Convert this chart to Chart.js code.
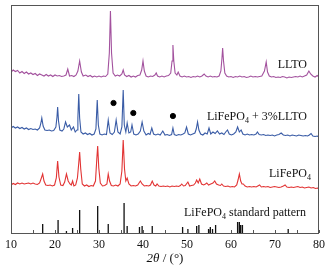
<!DOCTYPE html>
<html>
<head>
<meta charset="utf-8">
<script src="https://cdn.jsdelivr.net/npm/chart.js@4"></script>
<style>
  html, body { margin: 0; padding: 0; background: #fff; }
  #wrap { width: 334px; height: 268px; }
</style>
</head>
<body>
<div id="wrap"><canvas id="xrd"></canvas></div>
<script>
// 2θ (deg), intensity (arbitrary, offset per pattern)
const lltoPattern = [
  [10,161],[10.5,163],[11,161.5],[11.5,162.5],[12,160],[12.5,161.5],[13,159.5],[13.5,161],[14,159],[14.5,160],
  [15,158.5],[15.5,159.5],[16,157.5],[16.5,159],[17,158],[17.5,157],[18,158.5],[18.5,157],[19,158],[19.5,156.5],
  [20,158],[20.5,157],[21,157.5],[21.5,156.5],[22,157],[22.5,158],[22.9,164],[23.3,157],[23.8,157.5],[24.3,156.5],
  [24.8,158],[25.2,162],[25.6,172],[26,161],[26.4,157],[27,158],[27.5,156.5],[28,157.5],[28.5,156],[29,157],
  [29.5,156],[30,157],[30.5,156],[31,157],[31.5,156.5],[32,159],[32.35,180],[32.6,222],[32.85,180],[33.2,160],
  [33.7,157],[34.2,158],[34.7,157],[35.2,159],[35.5,163],[35.8,158],[36.3,156.5],[36.8,157.5],[37.3,156],[37.8,157],
  [38.3,156],[38.8,157.5],[39.3,158],[39.7,163],[40,172],[40.3,162],[40.7,157],[41.2,156],[41.7,157],[42.2,156.5],
  [42.7,158],[43,160],[43.3,157],[43.8,156],[44.3,157],[44.8,156],[45.3,157],[45.8,157.5],[46.3,160],[46.6,172],
  [46.8,188],[47,172],[47.3,160],[47.7,158],[48,161],[48.4,157],[48.9,156],[49.4,157],[49.9,156],[50.4,156.5],
  [50.9,155.5],[51.4,156.5],[51.9,156],[52.4,157],[52.9,156],[53.4,157],[53.9,159],[54.3,157],[54.8,156],[55.3,157],
  [55.8,156],[56.3,156.5],[56.8,156],[57.3,157],[57.7,162],[57.95,175],[58.1,185],[58.3,172],[58.6,160],[59,157],
  [59.5,156],[60,156.5],[60.5,155.5],[61,156.5],[61.5,156],[62,157],[62.5,156],[63,156.5],[63.5,155.5],[64,156],
  [64.5,157],[65,156],[65.5,156.5],[66,156],[66.5,156.5],[67,157],[67.6,162],[68,171],[68.3,161],[68.7,157],
  [69.2,156],[69.7,156.5],[70.2,155.5],[70.7,156],[71.2,155.5],[71.7,156.5],[72.2,156],[72.7,155],[73.2,156],[73.7,155.5],
  [74.2,156],[74.7,156.5],[75.2,156],[75.7,157],[76.2,156],[76.7,157],[77.2,158],[77.7,162],[78.1,159],[78.6,157],
  [79.1,156],[79.6,157.5],[80,156]
];

const compositePattern = [
  [10,105],[10.5,106.5],[11,105],[11.5,106],[12,104.5],[12.5,105.5],[13,104],[13.5,105],[14,103.5],[14.5,104.5],
  [15,103.5],[15.5,104],[16,103],[16.5,105],[16.8,110],[17,115],[17.3,107],[17.7,103],[18.2,102.5],[18.7,103],
  [19.2,102],[19.7,102.5],[20.2,106],[20.45,116],[20.6,126],[20.8,112],[21.1,103],[21.6,102],[22,104],[22.4,111],
  [22.8,106],[23.3,108],[23.7,103],[24.2,106],[24.6,101],[25,103],[25.2,115],[25.4,139],[25.6,115],[25.9,101],
  [26.4,99],[26.9,100],[27.4,98.5],[27.9,99.5],[28.4,98],[28.9,99],[29.3,104],[29.6,133],[29.85,108],[30.2,99],
  [30.7,98],[31.2,99],[31.7,98.5],[32.1,113],[32.5,100],[33,98.5],[33.5,101],[33.9,113],[34.3,101],[34.8,99],
  [35.2,106],[35.5,143],[35.75,108],[36.1,101],[36.4,110],[36.8,100],[37.2,101],[37.5,108],[37.9,99],[38.4,98],
  [38.9,99],[39.4,102],[39.8,111],[40.2,102],[40.7,98],[41.2,99.5],[41.6,98.5],[42,105],[42.4,99],[42.9,98],
  [43.4,99],[43.9,98],[44.5,102],[45,98],[45.5,98.5],[46,97.5],[46.5,98.5],[46.8,105],[47.1,98.5],[47.6,97.5],
  [48.1,98.5],[48.6,98],[49.1,99],[49.5,100],[49.9,106],[50.3,99],[50.8,98],[51.3,99],[51.8,100],[52.1,104],
  [52.4,111],[52.7,103],[53.1,99],[53.6,98],[54.1,100],[54.6,99],[55,105],[55.4,99],[55.9,101],[56.4,99.5],
  [56.9,102],[57.4,99],[57.9,100],[58.4,98.5],[58.8,101],[59.2,103],[59.6,99],[60.1,98],[60.6,99],[61.1,101],
  [61.5,106],[61.9,101],[62.3,103],[62.7,99],[63.2,98],[63.7,99],[64.2,98],[64.7,98.5],[65.2,98],[65.7,99],
  [66,101],[66.4,98.5],[66.9,98],[67.4,98.5],[67.9,97.5],[68.4,98],[68.9,97.5],[69.4,98],[69.9,97],[70.4,98],
  [70.9,98.5],[71.4,100],[71.9,98],[72.4,97.5],[72.9,98],[73.4,97],[73.9,98],[74.4,97.5],[74.9,97],[75.4,98],
  [75.9,97.5],[76.4,97],[76.9,97.5],[77.4,97],[77.8,98],[78.2,99.5],[78.6,97],[79.1,96.5],[79.6,97],[80,96]
];

const lfpPattern = [
  [10,48],[10.5,49.5],[11,48.5],[11.5,50],[12,49],[12.5,50],[13,49],[13.5,49.5],[14,50],[14.5,49],
  [15,50],[15.5,49],[16,48.5],[16.5,50],[16.9,55],[17.2,59],[17.5,52],[17.9,48],[18.4,47.5],[18.9,48],
  [19.4,47],[19.9,48],[20.3,55],[20.6,72],[20.9,56],[21.3,48],[21.8,47.5],[22.2,51],[22.6,59],[23,52],
  [23.4,49],[23.7,48],[24,52],[24.3,47],[24.7,48],[25.1,55],[25.4,70],[25.6,81],[25.85,64],[26.2,49],
  [26.7,47],[27.2,48],[27.7,46.5],[28.2,47.5],[28.7,47],[29.2,52],[29.5,74],[29.7,87],[29.95,65],[30.3,50],
  [30.8,47],[31.3,47.5],[31.8,49],[32.1,59],[32.4,52],[32.8,47.5],[33.3,47],[33.8,48],[34.3,47],[34.8,49],
  [35.2,62],[35.5,93],[35.8,64],[36.1,52],[36.4,55],[36.8,49],[37.3,47],[37.8,47.5],[38.3,47],[38.8,48],
  [39.1,50],[39.4,52],[39.8,49],[40.3,47],[40.8,47.5],[41.3,47],[41.7,48],[42.1,52],[42.5,48],[42.9,47],
  [43.2,49],[43.6,47],[44.1,46.5],[44.6,47],[45.1,46.5],[45.6,47],[46.1,46],[46.6,47],[47.1,46.5],[47.6,47],
  [48.1,46.5],[48.5,47.5],[48.8,49],[49.2,47],[49.6,47.5],[50.2,51],[50.6,47],[51,47.5],[51.5,48],[51.9,50],
  [52.2,53],[52.55,50],[52.9,54],[53.3,49],[53.8,48],[54.2,49],[54.5,50],[54.9,48],[55.4,49],[55.9,50],
  [56.3,52],[56.7,49],[57.2,48],[57.6,47.5],[57.9,49],[58.3,47],[58.8,46.5],[59.3,47],[59.8,46],[60.3,46.5],
  [60.8,46],[61.3,48],[61.6,53],[61.9,59],[62.2,52],[62.5,49],[62.8,49],[63.2,47],[63.7,46],[64.2,46.5],
  [64.7,46],[65.2,46.5],[65.7,46],[66.1,47],[66.5,48],[66.9,46],[67.4,46.5],[67.9,46],[68.4,46.5],[68.9,45.5],
  [69.4,46],[69.9,46.5],[70.4,46],[70.9,45.5],[71.4,46],[71.9,47],[72.3,48],[72.7,46],[73.2,45.5],[73.7,46],
  [74.2,45.5],[74.7,46],[75.2,46.5],[75.7,45.5],[76.2,46],[76.7,45],[77.2,45.5],[77.7,46],[78.2,45],[78.7,45.5],
  [79.2,44.5],[79.7,45],[80,44]
];

// reference lines of the LiFePO4 standard pattern
const stickPositions = [17.2, 20.7, 22.6, 24.0, 25.6, 29.7, 32.1, 35.7, 36.4, 39.2, 39.8, 42.1,
  49.0, 50.2, 52.2, 52.7, 54.9, 55.3, 55.8, 56.5, 61.5, 61.9, 62.2, 62.6, 73.0];
const stickHeights = [9, 13, 2, 5, 23, 27, 9, 30, 7, 6, 7, 7,
  6, 4, 7, 8, 4, 6, 4, 8, 11, 11, 8, 8, 4];

// LLTO reflections marked with dots in the composite pattern
const dotPositions = [33.3, 37.8, 46.8];
const dotHeights = [130, 120, 117];

const xTicks = [10, 20, 30, 40, 50, 60, 70, 80];

const toXY = (arr) => arr.map(([x, y]) => ({ x: x, y: y }));

const stickData = [];
stickPositions.forEach((p, i) => {
  stickData.push({ x: p, y: 0 }, { x: p, y: stickHeights[i] }, { x: p, y: null });
});

const serif = '"Liberation Serif", "DejaVu Serif", serif';

const decorations = {
  id: 'decorations',
  afterDraw(chart) {
    const ctx = chart.ctx;
    const a = chart.chartArea;
    const xs = chart.scales.x;
    ctx.save();
    // frame
    ctx.strokeStyle = '#555';
    ctx.lineWidth = 1;
    ctx.strokeRect(a.left + 0.5, a.top + 0.5, a.right - a.left - 1, a.bottom - a.top);
    // inward ticks every 5 degrees
    xs.ticks.forEach((t) => {
      const px = Math.round(xs.getPixelForValue(t.value)) + 0.5;
      ctx.beginPath();
      ctx.moveTo(px, a.bottom);
      ctx.lineTo(px, a.bottom - 3);
      ctx.stroke();
    });

    ctx.fillStyle = '#111';
    ctx.textBaseline = 'middle';
    const f = '12px ' + serif;
    const fs = '8px ' + serif;

    // draws pieces right-aligned at xr; pieces: [text, isSub]
    const drawRight = (pieces, xr, ym) => {
      let w = 0;
      pieces.forEach(([t, sub]) => { ctx.font = sub ? fs : f; w += ctx.measureText(t).width; });
      let x = xr - w;
      pieces.forEach(([t, sub]) => {
        ctx.font = sub ? fs : f;
        ctx.textAlign = 'left';
        ctx.fillText(t, x, sub ? ym + 4 : ym);
        x += ctx.measureText(t).width;
      });
    };
    drawRight([['LLTO', false]], 307, 65);
    drawRight([['LiFePO', false], ['4', true], [' + 3%LLTO', false]], 307, 117);
    drawRight([['LiFePO', false], ['4', true]], 311, 174);
    drawRight([['LiFePO', false], ['4', true], [' standard pattern', false]], 306, 213);

    // axis title 2θ / (°)
    const parts = [['2', 'italic '], ['θ', 'italic '], [' / (°)', '']];
    let tw = 0;
    parts.forEach(([t, s]) => { ctx.font = s + '13px ' + serif; tw += ctx.measureText(t).width; });
    let x = (a.left + a.right) / 2 - tw / 2;
    parts.forEach(([t, s]) => {
      ctx.font = s + '13px ' + serif;
      ctx.textAlign = 'left';
      ctx.fillText(t, x, 259);
      x += ctx.measureText(t).width;
    });
    ctx.restore();
  }
};

new Chart(document.getElementById('xrd').getContext('2d'), {
  type: 'line',
  data: {
    datasets: [
      { label: 'LLTO', data: toXY(lltoPattern), borderColor: 'rgb(163,82,158)', borderWidth: 1.1 },
      { label: 'LiFePO4 + 3%LLTO', data: toXY(compositePattern), borderColor: 'rgb(58,92,166)', borderWidth: 1.1 },
      { label: 'LiFePO4', data: toXY(lfpPattern), borderColor: 'rgb(226,52,52)', borderWidth: 1.1 },
      { label: 'standard', data: stickData, borderColor: '#111', borderWidth: 1.3, spanGaps: false },
      {
        label: 'LLTO peaks', type: 'scatter',
        data: dotPositions.map((p, i) => ({ x: p, y: dotHeights[i] })),
        pointRadius: 2.6, backgroundColor: '#000', borderColor: '#000', showLine: false
      }
    ]
  },
  options: {
    responsive: true,
    maintainAspectRatio: false,
    animation: false,
    elements: { point: { radius: 0 }, line: { tension: 0 } },
    layout: { padding: { left: 9, right: 15, top: 5, bottom: 0 } },
    plugins: { legend: { display: false }, tooltip: { enabled: false } },
    scales: {
      x: {
        type: 'linear', min: 10, max: 80,
        grid: { display: false, drawTicks: false },
        border: { display: false },
        ticks: {
          stepSize: 5, padding: 5, color: '#111',
          font: { family: serif, size: 12 },
          maxRotation: 0, autoSkip: false,
          callback: (v) => (xTicks.includes(v) ? String(v) : '')
        },
        afterFit: (s) => { s.height = 35; }
      },
      y: { display: false, min: 0, max: 228 }
    }
  },
  plugins: [decorations]
});
</script>
</body>
</html>
